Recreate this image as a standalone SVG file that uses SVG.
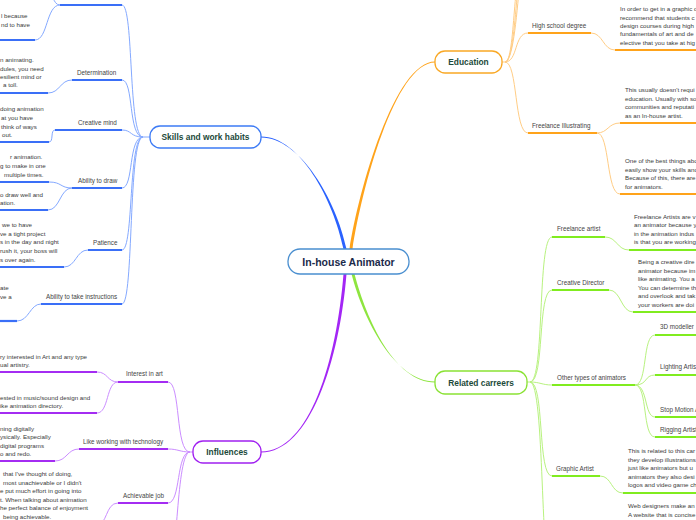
<svg xmlns="http://www.w3.org/2000/svg" width="696" height="520" viewBox="0 0 696 520">
<style>
text{font-family:"Liberation Sans",Arial,sans-serif}
.c{font-size:10.5px;font-weight:bold;fill:#1b2a4a;text-anchor:middle}
.m{font-size:8.4px;font-weight:bold;fill:#1d4a3a;text-anchor:middle}
.l{font-size:6.3px;fill:#444}
.t{font-size:6.2px;fill:#3a3a3a}
.cb{fill:none;stroke:#84a9ff;stroke-width:1}
.ub{fill:none;stroke:#3a6ff7;stroke-width:2.2}
.co{fill:none;stroke:#ffcd85;stroke-width:1}
.uo{fill:none;stroke:#ffa31a;stroke-width:2.2}
.cg{fill:none;stroke:#b8f27f;stroke-width:1}
.ug{fill:none;stroke:#80ec1f;stroke-width:2.2}
.cp{fill:none;stroke:#cb8dff;stroke-width:1}
.up{fill:none;stroke:#a42cf2;stroke-width:2.2}
.box{fill:#fff;stroke-width:1.3}
</style>
<rect width="696" height="520" fill="#fff"/>
<g id="connectors">
<!-- main branches (tapered) -->
<path d="M343.5,249 C333.5,200 300,136.5 261,136.5 L261,137.5 C300,137.5 336.5,200 346.5,249 Z" fill="#2a62ff"/>
<path d="M349.5,249 C358.5,190 395,61.5 435,61.5 L435,62.5 C395,62.5 361.5,190 352.5,249 Z" fill="#ffa31a"/>
<path d="M351.5,274 C363.5,320 395,381.5 435,381.5 L435,382.5 C395,382.5 366.5,320 354.5,274 Z" fill="#8ee53f"/>
<path d="M343.5,274 C336.5,360 310,451.5 261,451.5 L261,452.5 C310,452.5 339.5,360 346.5,274 Z" fill="#a326f5"/>
<!-- skills hub -->
<path class="cb" d="M150,137 H143 C128,137 134,5 122,5"/>
<path class="cb" d="M143,137 C128,137 134,80 122,80"/>
<path class="cb" d="M143,137 C130,137 132,130 122,130"/>
<path class="cb" d="M143,137 C128,137 134,188 122,188"/>
<path class="cb" d="M143,137 C128,137 134,250 122,250"/>
<path class="cb" d="M143,137 C128,137 134,304 122,304"/>
<path class="cb" d="M60,5 C52,5 54,-10 44,-10"/>
<path class="cb" d="M60,5 C46,5 48,40 35,40"/>
<path class="cb" d="M72,80 C60,80 60,93 48,93"/>
<path class="cb" d="M55,130 C50,130 54,142 49,142"/>
<path class="cb" d="M72,188 C60,188 62,182 49,182"/>
<path class="cb" d="M72,188 C60,188 60,210 48,210"/>
<path class="cb" d="M88,250 C76,250 76,267 64,267"/>
<path class="cb" d="M41,304 C30,304 29,321 17,321"/>
<!-- education hub -->
<path class="co" d="M502,62 H505 C518,62 514,33 528,33"/>
<path class="co" d="M505,62 C518,62 514,133 528,133"/>
<path class="co" d="M505,62 C516,62 512,-40 526,-40"/>
<path class="co" d="M505,62 C518,62 516,-70 530,-70"/>
<path class="co" d="M505,62 C520,62 520,-100 534,-100"/>
<path class="co" d="M591,33 C603,33 603,50 615,50"/>
<path class="co" d="M597,133 C608,133 608,123 620,123"/>
<path class="co" d="M597,133 C610,133 606,194 620,194"/>
<!-- related hub -->
<path class="cg" d="M527,382 H530 C545,382 537,237 552,237"/>
<path class="cg" d="M530,382 C545,382 537,290 552,290"/>
<path class="cg" d="M530,382 C540,382 542,385 552,385"/>
<path class="cg" d="M530,382 C545,382 537,476 552,476"/>
<path class="cg" d="M530,382 C545,382 540,580 552,580"/>
<path class="cg" d="M605,237 C617,237 617,250 629,250"/>
<path class="cg" d="M609,290 C621,290 621,312 633,312"/>
<path class="cg" d="M600,476 C612,476 611,493 623,493"/>
<path class="cg" d="M635,385 C648,385 642,335 655,335"/>
<path class="cg" d="M635,385 C648,385 644,375 655,375"/>
<path class="cg" d="M635,385 C648,385 644,417 655,417"/>
<path class="cg" d="M635,385 C648,385 642,437 655,437"/>
<!-- influences hub -->
<path class="cp" d="M193,452 H190 C175,452 181,382 168,382"/>
<path class="cp" d="M190,452 C180,452 178,449 168,449"/>
<path class="cp" d="M190,452 C176,452 181,503 168,503"/>
<path class="cp" d="M190,452 C176,452 178,570 168,570"/>
<path class="cp" d="M118,382 C107,382 108,372 97,372"/>
<path class="cp" d="M118,382 C106,382 109,413 97,413"/>
<path class="cp" d="M79,449 C67,449 67,461 55,461"/>
<path class="cp" d="M118,503 C105,503 108,526 95,526"/>
</g>
<g id="central">
<rect class="box" x="288" y="249" width="121" height="25" rx="12" stroke="#4a8fd0"/>
<text class="c" x="348.5" y="265.5">In-house Animator</text>
</g>
<g id="skills">
<rect class="box" x="150" y="126" width="111" height="22" rx="10" stroke="#3d7bf5"/>
<text class="m" x="205.5" y="140">Skills and work habits</text>
</g>
<g id="skills-top">
<path class="ub" d="M60,5 H122"/>
</g>
<g id="skills-top-child">
<text class="t" x="1" y="18">l because</text>
<text class="t" x="1" y="27">nd to have</text>
<path class="ub" d="M0,40 H35"/>
</g>
<g id="determination">
<text class="l" x="77" y="75">Determination</text>
<path class="ub" d="M72,80 H122"/>
</g>
<g id="determination-child">
<text class="t" x="0" y="62">n animating.</text>
<text class="t" x="0" y="71">dules, you need</text>
<text class="t" x="0" y="79">esilient mind or</text>
<text class="t" x="3" y="87">a toll.</text>
<path class="ub" d="M0,93 H48"/>
</g>
<g id="creative-mind">
<text class="l" x="78" y="125">Creative mind</text>
<path class="ub" d="M55,130 H122"/>
</g>
<g id="creative-mind-child">
<text class="t" x="0" y="111">doing animation</text>
<text class="t" x="1" y="120">at you have</text>
<text class="t" x="1" y="129">think of ways</text>
<text class="t" x="2" y="137">out.</text>
<path class="ub" d="M0,142 H49"/>
</g>
<g id="ability-draw">
<text class="l" x="78" y="183">Ability to draw</text>
<path class="ub" d="M72,188 H122"/>
</g>
<g id="ability-draw-child1">
<text class="t" x="10" y="159">r animation.</text>
<text class="t" x="0" y="168">g to make in one</text>
<text class="t" x="4" y="177">multiple times.</text>
<path class="ub" d="M0,182 H49"/>
</g>
<g id="ability-draw-child2">
<text class="t" x="0" y="197">o draw well and</text>
<text class="t" x="0" y="205">ation.</text>
<path class="ub" d="M0,210 H48"/>
</g>
<g id="patience">
<text class="l" x="93" y="245">Patience</text>
<path class="ub" d="M88,250 H122"/>
</g>
<g id="patience-child">
<text class="t" x="2" y="227">we to have</text>
<text class="t" x="0" y="236">ve a tight project</text>
<text class="t" x="0" y="244">s in the day and night</text>
<text class="t" x="0" y="253">rush it, your boss will</text>
<text class="t" x="0" y="262">s over again.</text>
<path class="ub" d="M0,267 H64"/>
</g>
<g id="instructions">
<text class="l" x="46" y="299">Ability to take instructions</text>
<path class="ub" d="M41,304 H122"/>
</g>
<g id="instructions-child">
<text class="t" x="0" y="290">ate</text>
<text class="t" x="0" y="299">ve a</text>
<path class="ub" d="M0,321 H17"/>
</g>
<g id="education">
<rect class="box" x="435" y="51" width="67" height="22" rx="10" stroke="#f9a825"/>
<text class="m" x="468.5" y="65">Education</text>
</g>
<g id="high-school">
<text class="l" x="532" y="28">High school degree</text>
<path class="uo" d="M528,33 H591"/>
</g>
<g id="high-school-child">
<text class="t" x="620" y="11">In order to get in a graphic d</text>
<text class="t" x="620" y="19.5">recommend that students c</text>
<text class="t" x="620" y="28">design courses during high</text>
<text class="t" x="620" y="36">fundamentals of art and de</text>
<text class="t" x="620" y="44.5">elective that you take at hig</text>
<path class="uo" d="M615,50 H696"/>
</g>
<g id="freelance-illustrating">
<text class="l" x="532" y="128">Freelance Illustrating</text>
<path class="uo" d="M528,133 H597"/>
</g>
<g id="freelance-illustrating-child1">
<text class="t" x="625" y="92">This usually doesn't requi</text>
<text class="t" x="625" y="101">education. Usually with so</text>
<text class="t" x="625" y="109">communities and reputati</text>
<text class="t" x="625" y="118">as an In-house artist.</text>
<path class="uo" d="M620,123 H696"/>
</g>
<g id="freelance-illustrating-child2">
<text class="t" x="625" y="163">One of the best things abo</text>
<text class="t" x="625" y="172">easily show your skills and</text>
<text class="t" x="625" y="180">Because of this, there are</text>
<text class="t" x="625" y="189">for animators.</text>
<path class="uo" d="M620,194 H696"/>
</g>
<g id="related">
<rect class="box" x="435" y="371" width="92" height="23" rx="10" stroke="#8ae234"/>
<text class="m" x="481" y="385.5">Related carreers</text>
</g>
<g id="freelance-artist">
<text class="l" x="557" y="231">Freelance artist</text>
<path class="ug" d="M552,237 H605"/>
</g>
<g id="freelance-artist-child">
<text class="t" x="634" y="219">Freelance Artists are v</text>
<text class="t" x="634" y="227">an animator because y</text>
<text class="t" x="634" y="236">in the animation indus</text>
<text class="t" x="634" y="244">is that you are working</text>
<path class="ug" d="M629,250 H696"/>
</g>
<g id="creative-director">
<text class="l" x="557" y="285">Creative Director</text>
<path class="ug" d="M552,290 H609"/>
</g>
<g id="creative-director-child">
<text class="t" x="638" y="264">Being a creative dire</text>
<text class="t" x="638" y="272.5">animator because im</text>
<text class="t" x="638" y="281">like animating. You a</text>
<text class="t" x="638" y="289.5">You can determine th</text>
<text class="t" x="638" y="298">and overlook and tak</text>
<text class="t" x="638" y="306.5">your workers are doi</text>
<path class="ug" d="M633,312 H696"/>
</g>
<g id="other-types">
<text class="l" x="557" y="380">Other types of animators</text>
<path class="ug" d="M552,385 H635"/>
</g>
<g id="modeller">
<text class="l" x="660" y="329">3D modeller</text>
<path class="ug" d="M655,335 H696"/>
</g>
<g id="lighting">
<text class="l" x="660" y="369">Lighting Artis</text>
<path class="ug" d="M655,375 H696"/>
</g>
<g id="stop-motion">
<text class="l" x="660" y="412">Stop Motion A</text>
<path class="ug" d="M655,417 H696"/>
</g>
<g id="rigging">
<text class="l" x="660" y="432">Rigging Artist</text>
<path class="ug" d="M655,437 H696"/>
</g>
<g id="graphic-artist">
<text class="l" x="556" y="471">Graphic Artist</text>
<path class="ug" d="M552,476 H600"/>
</g>
<g id="graphic-artist-child">
<text class="t" x="628" y="453">This is related to this car</text>
<text class="t" x="628" y="461.5">they develop illustrations</text>
<text class="t" x="628" y="470">just like animators but u</text>
<text class="t" x="628" y="478.5">animators they also desi</text>
<text class="t" x="628" y="487">logos and video game ch</text>
<path class="ug" d="M623,493 H696"/>
</g>
<g id="web-designers-child">
<text class="t" x="628" y="508">Web designers make an</text>
<text class="t" x="628" y="517">A website that is concise</text>
</g>
<g id="influences">
<rect class="box" x="193" y="441" width="68" height="22" rx="10" stroke="#a020f0"/>
<text class="m" x="227" y="455">Influences</text>
</g>
<g id="interest-art">
<text class="l" x="126" y="376">Interest in art</text>
<path class="up" d="M118,382 H168"/>
</g>
<g id="interest-art-child1">
<text class="t" x="0" y="359">ry interested in Art and any type</text>
<text class="t" x="0" y="367">ual artistry.</text>
<path class="up" d="M0,372 H97"/>
</g>
<g id="interest-art-child2">
<text class="t" x="0" y="400">ested in music/sound design and</text>
<text class="t" x="0" y="408">ike animation directory.</text>
<path class="up" d="M0,413 H97"/>
</g>
<g id="technology">
<text class="l" x="83" y="444">Like working with technology</text>
<path class="up" d="M79,449 H168"/>
</g>
<g id="technology-child">
<text class="t" x="0" y="431">ning digitally</text>
<text class="t" x="0" y="439">ysically. Especially</text>
<text class="t" x="0" y="448">digital programs</text>
<text class="t" x="0" y="456">o and redo.</text>
<path class="up" d="M0,461 H55"/>
</g>
<g id="achievable">
<text class="l" x="123" y="498">Achievable job</text>
<path class="up" d="M118,503 H168"/>
</g>
<g id="achievable-child">
<text class="t" x="3" y="476">that I've thought of doing,</text>
<text class="t" x="3" y="485">most unachievable or I didn't</text>
<text class="t" x="0" y="493">e put much effort in going into</text>
<text class="t" x="0" y="502">t. When talking about animation</text>
<text class="t" x="0" y="510">he perfect balance of enjoyment</text>
<text class="t" x="3" y="519">being achievable.</text>
</g>
</svg>
